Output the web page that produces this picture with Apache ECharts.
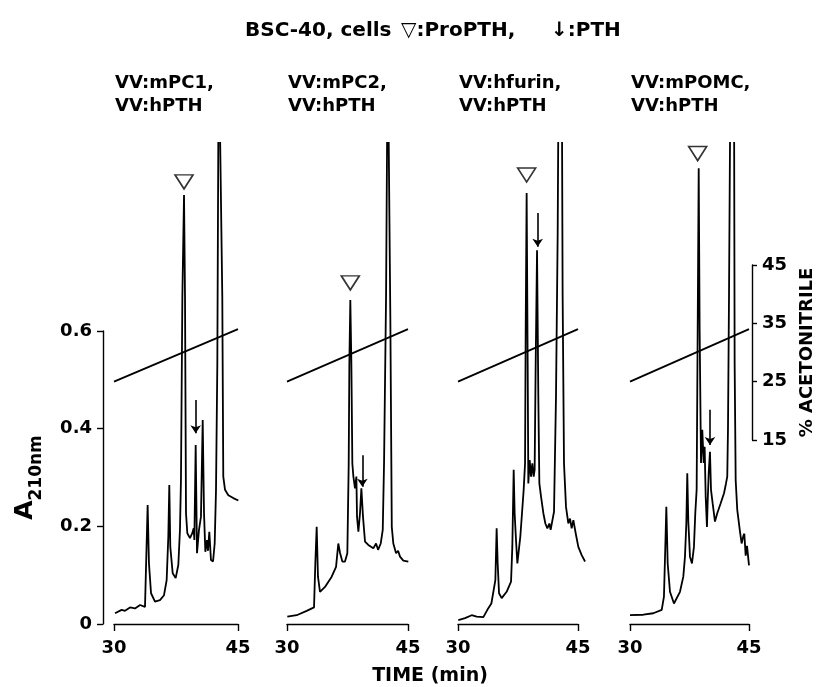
<!DOCTYPE html>
<html><head><meta charset="utf-8">
<script src="https://cdn.jsdelivr.net/npm/echarts@6/dist/echarts.min.js"></script>
<style>html,body{margin:0;padding:0;background:#fff}#c{width:821px;height:687px}</style>
</head><body><div id="c"></div>
<script>
// ---------- data ----------
const timeTicks = [30, 45];
const absTicks = [0, 0.2, 0.4, 0.6];
const acnTicks = [15, 25, 35, 45];
const panelTitles = ['VV:mPC1,\nVV:hPTH', 'VV:mPC2,\nVV:hPTH', 'VV:hfurin,\nVV:hPTH', 'VV:mPOMC,\nVV:hPTH'];
const mainTitle = ['BSC-40, cells', '\u25BD:ProPTH,', '\u2193:PTH'];

// Panel 1: VV:mPC1
const t1 = [30.12,30.93,31.33,31.94,32.54,33.15,33.75,33.91,34.07,34.23,34.48,34.96,35.56,36.05,36.37,36.57,36.69,36.81,37.10,37.46,37.78,37.98,38.10,38.27,38.47,38.59,38.71,38.87,39.19,39.47,39.64,39.72,39.88,40.04,40.28,40.52,40.73,40.89,41.05,41.25,41.37,41.53,41.73,41.98,42.18,42.34,42.50,42.67,42.90,43.10,43.22,43.43,43.83,44.43,45.04];
const a1 = [0.022,0.029,0.027,0.034,0.032,0.039,0.035,0.036,0.244,0.124,0.063,0.046,0.049,0.059,0.090,0.179,0.285,0.158,0.104,0.094,0.121,0.193,0.295,0.671,0.879,0.671,0.227,0.186,0.176,0.186,0.196,0.172,0.367,0.145,0.193,0.220,0.418,0.227,0.148,0.172,0.150,0.189,0.131,0.128,0.165,0.275,0.534,1.2,1.2,0.671,0.302,0.275,0.264,0.258,0.253];
// Panel 2: VV:mPC2
const t2 = [30.04,31.2,32.44,33.35,33.51,33.68,33.84,34.09,34.71,35.54,36.08,36.36,36.57,36.86,37.19,37.48,37.65,37.73,37.85,37.98,38.1,38.23,38.43,38.6,38.68,38.85,39.05,39.22,39.42,39.67,40.08,40.70,41.04,41.29,41.62,41.87,42.03,42.28,42.49,42.69,42.81,42.99,43.18,43.52,43.77,44.01,44.42,45.04];
const a2 = [0.015,0.018,0.027,0.034,0.124,0.199,0.097,0.066,0.076,0.097,0.117,0.165,0.146,0.128,0.128,0.145,0.329,0.534,0.664,0.534,0.329,0.302,0.278,0.302,0.220,0.189,0.227,0.278,0.220,0.169,0.162,0.155,0.165,0.152,0.165,0.193,0.329,0.671,1.2,1.2,0.63,0.199,0.165,0.145,0.150,0.138,0.130,0.128];
// Panel 3: VV:hfurin
const t3 = [30.04,30.88,31.71,32.33,33.17,33.67,34.17,34.67,34.83,34.96,35.13,35.46,36.08,36.63,36.79,36.96,37.08,37.25,37.42,37.63,37.79,38.0,38.21,38.38,38.46,38.58,38.71,38.79,38.96,39.13,39.29,39.46,39.58,39.71,39.88,40.04,40.17,40.38,40.67,40.92,41.17,41.42,41.58,41.83,42.0,42.25,42.46,42.6,42.96,43.08,43.25,43.5,43.79,44.0,44.21,44.42,44.71,45.04,45.46,45.88];
const a3 = [0.008,0.012,0.018,0.015,0.014,0.029,0.042,0.090,0.196,0.124,0.063,0.053,0.066,0.087,0.158,0.316,0.227,0.172,0.124,0.127,0.179,0.227,0.275,0.329,0.602,0.883,0.534,0.288,0.336,0.302,0.329,0.302,0.316,0.534,0.766,0.466,0.288,0.261,0.227,0.206,0.196,0.206,0.193,0.196,0.23,0.466,0.80,1.2,1.2,0.671,0.329,0.240,0.206,0.216,0.196,0.213,0.186,0.158,0.141,0.128];
// Panel 4: VV:mPOMC
const t4 = [30.0,31.68,32.94,34.0,34.28,34.45,34.58,34.75,35.04,35.54,36.3,36.72,36.93,37.1,37.22,37.35,37.56,37.81,38.06,38.23,38.4,38.53,38.66,38.78,38.95,39.11,39.29,39.41,39.54,39.7,39.79,39.92,40.08,40.21,40.42,40.71,41.0,41.42,41.85,42.1,42.26,42.35,42.48,42.69,43.1,43.19,43.32,43.52,43.86,44.07,44.28,44.41,44.58,44.75,45.0];
const a4 = [0.018,0.019,0.022,0.029,0.056,0.158,0.240,0.124,0.066,0.042,0.066,0.097,0.138,0.206,0.309,0.21,0.138,0.124,0.158,0.227,0.275,0.602,0.934,0.6,0.33,0.398,0.33,0.363,0.261,0.199,0.25,0.309,0.353,0.275,0.247,0.21,0.227,0.247,0.268,0.288,0.302,0.398,0.671,1.2,1.2,0.534,0.295,0.234,0.19,0.165,0.18,0.185,0.14,0.16,0.12];

// acetonitrile gradient (% at start / end of run)
const gradTime = [30, 45];
const gradAcn = [25.0, 34.0];

// ProPTH (triangle) marker positions and PTH (arrow) positions
const proTime = [38.47, 37.85, 38.58, 38.53];
const proAbs = [0.906, 0.699, 0.92, 0.964];
const pthTime = [39.88, 39.34, 39.96, 40.08];
const pthTail = [0.459, 0.346, 0.842, 0.439];
const pthTip = [0.391, 0.281, 0.773, 0.367];

const traceT = [t1, t2, t3, t4];
const traceA = [a1, a2, a3, a4];

// ---------- layout ----------
const FONT = 'DejaVu Sans';
const PX = [[114, 238], [287, 408], [458, 578], [630, 749]];
const Y0 = 624, TOP = 143;
const grid = [], xAxis = [], yAxis = [], series = [];
const hiddenAx = (o) => Object.assign({show: false}, o);

PX.forEach((p, i) => {
  const w = p[1] - p[0];
  // data grid (x 30..46)
  const gD = grid.length;
  grid.push({left: p[0], width: w * 16 / 15, top: TOP, height: Y0 - TOP});
  const xD = xAxis.length; xAxis.push(hiddenAx({type: 'value', min: 30, max: 46, gridIndex: gD}));
  const yD = yAxis.length; yAxis.push(hiddenAx({type: 'value', min: 0, max: (Y0 - TOP) / 488, gridIndex: gD}));
  series.push({type: 'line', xAxisIndex: xD, yAxisIndex: yD, data: traceT[i].map((t, k) => [t, traceA[i][k]]),
    showSymbol: false, symbol: 'none', clip: true, lineStyle: {color: '#000', width: 1.8}, animation: false, z: 3});
  series.push({type: 'scatter', xAxisIndex: xD, yAxisIndex: yD, data: [[proTime[i], proAbs[i]]],
    symbol: 'triangle', symbolRotate: 180, symbolSize: [18, 14],
    itemStyle: {color: '#fff', borderColor: '#000', borderWidth: 1.6}, animation: false, z: 5});
  series.push({type: 'lines', coordinateSystem: 'cartesian2d', xAxisIndex: xD, yAxisIndex: yD,
    data: [{coords: [[pthTime[i], pthTail[i]], [pthTime[i], pthTip[i]]]}],
    symbol: ['none', 'arrow'], symbolSize: 8, lineStyle: {color: '#000', width: 1.6, opacity: 1}, animation: false, z: 5});

  // x-axis bracket grid
  const gB = grid.length;
  grid.push({left: p[0], width: w, top: Y0 - 24, height: 24});
  xAxis.push({type: 'value', gridIndex: gB, min: timeTicks[0], max: timeTicks[1], interval: timeTicks[1] - timeTicks[0],
    axisLine: {lineStyle: {color: '#000', width: 1.4}}, axisTick: {inside: false, length: 7, lineStyle: {color: '#000', width: 1.4}},
    splitLine: {show: false}, axisLabel: {color: '#000', fontFamily: FONT, fontWeight: 'bold', fontSize: 18, margin: 15}});
  yAxis.push(hiddenAx({type: 'value', gridIndex: gB, min: 0, max: 1}));

  // acetonitrile gradient grid
  const gG = grid.length;
  grid.push({left: p[0], width: w, top: 265, height: 175});
  const xG = xAxis.length; xAxis.push(hiddenAx({type: 'value', gridIndex: gG, min: 30, max: 45}));
  const yG = yAxis.length;
  if (i === 3) {
    yAxis.push({type: 'value', gridIndex: gG, position: 'right', offset: 3, min: acnTicks[0], max: acnTicks[3], interval: 10,
      axisLine: {show: true, lineStyle: {color: '#000', width: 1.4}},
      axisTick: {show: true, inside: false, length: 5, lineStyle: {color: '#000', width: 1.4}},
      splitLine: {show: false},
      axisLabel: {color: '#000', fontFamily: FONT, fontWeight: 'bold', fontSize: 18, margin: 10},
      name: '% ACETONITRILE', nameLocation: 'middle', nameRotate: 90, nameGap: 46,
      nameTextStyle: {color: '#000', fontFamily: FONT, fontWeight: 'bold', fontSize: 18}});
  } else {
    yAxis.push(hiddenAx({type: 'value', gridIndex: gG, min: acnTicks[0], max: acnTicks[3]}));
  }
  series.push({type: 'line', xAxisIndex: xG, yAxisIndex: yG, data: gradTime.map((t, k) => [t, gradAcn[k]]),
    showSymbol: false, symbol: 'none', lineStyle: {color: '#000', width: 1.8}, animation: false, z: 2});
});

// left absorbance axis
const gL = grid.length;
grid.push({left: 103, width: 5, top: 331, height: Y0 - 331});
xAxis.push(hiddenAx({type: 'value', gridIndex: gL, min: 0, max: 1}));
yAxis.push({type: 'value', gridIndex: gL, position: 'left', min: absTicks[0], max: absTicks[3], interval: 0.2,
  axisLine: {show: true, lineStyle: {color: '#000', width: 1.4}},
  axisTick: {show: true, inside: false, length: 6, lineStyle: {color: '#000', width: 1.4}},
  splitLine: {show: false},
  axisLabel: {color: '#000', fontFamily: FONT, fontWeight: 'bold', fontSize: 18, margin: 11,
    formatter: v => v === 0 ? '0' : v.toFixed(1)},
  name: '{a|A}{s|210nm}', nameLocation: 'middle', nameRotate: 90, nameGap: 58,
  nameTextStyle: {rich: {
    a: {fontFamily: FONT, fontWeight: 'bold', fontSize: 25, color: '#000', verticalAlign: 'bottom', padding: [0, 0, 7, 0]},
    s: {fontFamily: FONT, fontWeight: 'bold', fontSize: 17, color: '#000', verticalAlign: 'bottom'}}}});

const tFont = {fontFamily: FONT, fontWeight: 'bold', fontSize: 20, color: '#000'};
const titles = [{text: '{b|' + mainTitle[0] + '}{t|' + mainTitle[1] + '}{p|' + mainTitle[2] + '}', left: 240, top: 16,
  textStyle: {rich: {b: Object.assign({width: 156}, tFont), t: Object.assign({width: 150}, tFont), p: Object.assign({}, tFont)}}}];
PX.forEach((p, i) => titles.push({text: panelTitles[i], left: p[0] - 4, top: 67,
  textStyle: {fontFamily: FONT, fontWeight: 'bold', fontSize: 18, lineHeight: 23, color: '#000'}}));

const chart = echarts.init(document.getElementById('c'), null, {renderer: 'canvas'});
chart.setOption({
  backgroundColor: '#fff',
  animation: false,
  title: titles,
  grid, xAxis, yAxis, series,
  graphic: [{type: 'text', x: 430, y: 676,
    style: {text: 'TIME (min)', fontFamily: FONT, fontWeight: 'bold', fontSize: 19, fill: '#000', textAlign: 'center', textVerticalAlign: 'middle'}}]
});
</script></body></html>
